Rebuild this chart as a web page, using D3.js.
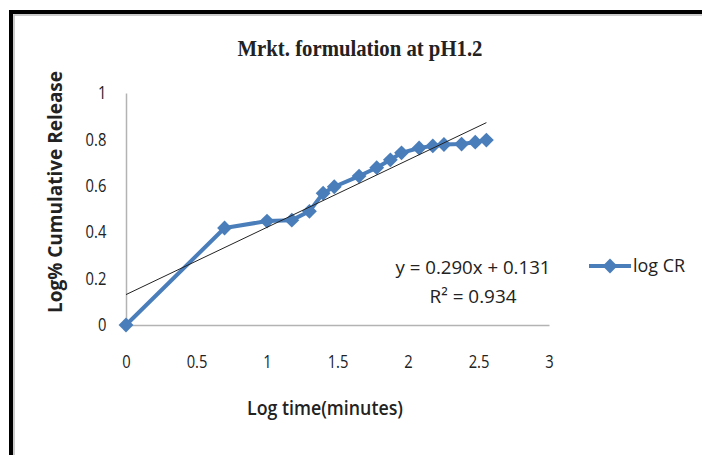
<!DOCTYPE html>
<meta charset="utf-8">
<head>
  <title>Mrkt. formulation at pH1.2</title>
</head>

<style>
body {
  margin: 0;
  background: #fff;
}
text {
  font-family: "Open Sans", sans-serif;
  fill: #222;
}
</style>

<body>
  <div id="content">
    <svg width="702" height="455"></svg>
  </div>

  <script src="https://cdnjs.cloudflare.com/ajax/libs/d3/7.8.5/d3.min.js"></script>

  <script>
// log10 of sampling time (min) and log% cumulative release
var logTime = [0, 0.699, 1, 1.176, 1.301, 1.398, 1.477, 1.653, 1.778, 1.875, 1.954, 2.079, 2.176, 2.255, 2.380, 2.477, 2.556];
var logCR   = [0, 0.418, 0.448, 0.452, 0.49, 0.568, 0.596, 0.642, 0.678, 0.712, 0.742, 0.763, 0.772, 0.778, 0.780, 0.788, 0.797];

var xTicks = [0, 0.5, 1, 1.5, 2, 2.5, 3];
var yTicks = [0, 0.2, 0.4, 0.6, 0.8, 1];

var slope = 0.290, intercept = 0.131;
var eqLabel = 'y = 0.290x + 0.131';
var r2Label = 'R² = 0.934';
var seriesName = 'log CR';

var svg = d3.select('#content svg');

// outer frame (continues past the right and bottom edges)
svg.append('rect')
  .attr('x', 11).attr('y', 12)
  .attr('width', 760).attr('height', 520)
  .attr('fill', 'none')
  .attr('stroke', '#000')
  .attr('stroke-width', 4);
svg.append('rect')
  .attr('x', 14).attr('y', 15)
  .attr('width', 760).attr('height', 520)
  .attr('fill', 'none')
  .attr('stroke', '#bbb')
  .attr('stroke-width', 1.5);

var x = d3.scaleLinear().domain([0, 3]).range([126, 549]);
var y = d3.scaleLinear().domain([0, 1]).range([325, 93]);

var blue = '#4a7ebb';

// axes
var xAxis = svg.append('g')
  .attr('transform', 'translate(0,' + y(0) + ')')
  .call(d3.axisBottom(x).tickValues(xTicks).tickSize(0).tickPadding(30)
    .tickFormat(function(d) { return d; }));
var yAxis = svg.append('g')
  .attr('transform', 'translate(' + x(0) + ',0)')
  .call(d3.axisLeft(y).tickValues(yTicks).tickSize(0).tickPadding(24)
    .tickFormat(function(d) { return d; }));

[xAxis, yAxis].forEach(function(g) {
  g.select('.domain').attr('stroke', '#b3b3b3').attr('stroke-width', 1.5);
  g.selectAll('text')
    .style('font-family', '"Open Sans", sans-serif')
    .style('font-size', '18px')
    .attr('fill', '#333');
});
// narrow the tick digits a little, like the condensed original
xAxis.selectAll('text').attr('transform', 'scale(0.82,1)');
yAxis.selectAll('text').attr('transform', 'scale(0.82,1)');

// series
var pts = logTime.map(function(t, i) { return [t, logCR[i]]; });

svg.append('path')
  .datum(pts)
  .attr('fill', 'none')
  .attr('stroke', blue)
  .attr('stroke-width', 4)
  .attr('stroke-linejoin', 'round')
  .attr('d', d3.line().x(function(d) { return x(d[0]); }).y(function(d) { return y(d[1]); }));

var diamond = d3.symbol().type(d3.symbolDiamond2).size(140);

svg.append('g').selectAll('path')
  .data(pts)
  .join('path')
  .attr('transform', function(d) { return 'translate(' + x(d[0]) + ',' + y(d[1]) + ')'; })
  .attr('d', diamond)
  .attr('fill', blue);

// linear trendline
var tMax = d3.max(logTime);
svg.append('line')
  .attr('x1', x(0)).attr('y1', y(intercept))
  .attr('x2', x(tMax)).attr('y2', y(slope * tMax + intercept))
  .attr('stroke', '#222')
  .attr('stroke-width', 1);

// equation
svg.append('text')
  .attr('x', 473).attr('y', 274)
  .attr('text-anchor', 'middle')
  .style('font-size', '19px')
  .attr('textLength', 155)
  .attr('lengthAdjust', 'spacingAndGlyphs')
  .text(eqLabel);
svg.append('text')
  .attr('x', 473).attr('y', 303)
  .attr('text-anchor', 'middle')
  .style('font-size', '19px')
  .attr('textLength', 87)
  .attr('lengthAdjust', 'spacingAndGlyphs')
  .text(r2Label);

// legend
var lg = svg.append('g').attr('transform', 'translate(589,266)');
lg.append('line')
  .attr('x1', 0).attr('x2', 42)
  .attr('stroke', blue).attr('stroke-width', 4);
lg.append('path')
  .attr('transform', 'translate(21,0)')
  .attr('d', diamond)
  .attr('fill', blue);
lg.append('text')
  .attr('x', 44).attr('y', 6)
  .style('font-size', '19px')
  .attr('textLength', 52)
  .attr('lengthAdjust', 'spacingAndGlyphs')
  .text(seriesName);

// title
svg.append('text')
  .attr('x', 360).attr('y', 56)
  .attr('text-anchor', 'middle')
  .style('font-family', '"Liberation Serif", serif')
  .style('font-weight', 'bold')
  .style('font-size', '23px')
  .attr('textLength', 245)
  .attr('lengthAdjust', 'spacingAndGlyphs')
  .text('Mrkt. formulation at pH1.2');

// axis titles
svg.append('text')
  .attr('x', 325).attr('y', 415)
  .attr('text-anchor', 'middle')
  .style('font-weight', '600')
  .style('font-size', '19px')
  .attr('textLength', 156)
  .attr('lengthAdjust', 'spacingAndGlyphs')
  .text('Log time(minutes)');

svg.append('text')
  .attr('transform', 'translate(62,192) rotate(-90)')
  .attr('text-anchor', 'middle')
  .style('font-weight', 'bold')
  .style('font-size', '19px')
  .attr('textLength', 242)
  .attr('lengthAdjust', 'spacingAndGlyphs')
  .text('Log% Cumulative Release');
  </script>
</body>
</html>
